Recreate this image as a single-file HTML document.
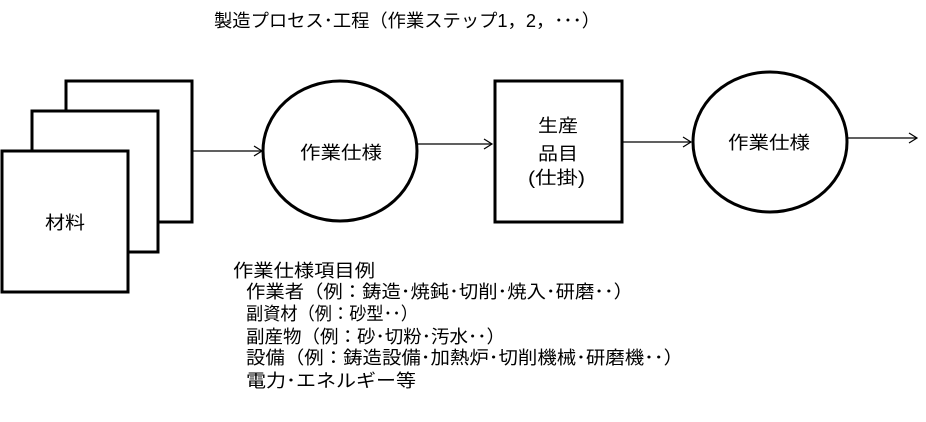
<!DOCTYPE html>
<html><head><meta charset="utf-8"><style>
html,body{margin:0;padding:0;background:#fff;}
svg{display:block;}
text{font-family:"Liberation Sans","Noto Sans CJK JP",sans-serif;font-size:18px;fill:#000;}
</style></head><body>
<svg width="926" height="422" viewBox="0 0 926 422" xmlns="http://www.w3.org/2000/svg">
<g fill="#fff" stroke="#000" stroke-width="3">
<rect x="66" y="81" width="126" height="141"/>
<rect x="32" y="111" width="126" height="141"/>
<rect x="2" y="151" width="126" height="141"/>
<ellipse cx="340" cy="151" rx="77" ry="70"/>
<rect x="495" y="81" width="127" height="141"/>
<ellipse cx="770" cy="142" rx="77" ry="70"/>
</g>
<g stroke="#000" stroke-width="1.2" fill="none">
<line x1="192" y1="151" x2="262" y2="151"/><polyline points="254,146 262,151 254,156"/>
<line x1="418" y1="144" x2="492" y2="144"/><polyline points="484,139 492,144 484,149"/>
<line x1="622" y1="142" x2="691" y2="142"/><polyline points="683,137 691,142 683,147"/>
<line x1="848" y1="138" x2="917" y2="138"/><polyline points="909,133 917,138 909,143"/>
</g>
<text x="214" y="27" textLength="386" lengthAdjust="spacingAndGlyphs">製造プロセス･工程（作業ステップ1，2，･･･）</text>
<text x="45" y="229" textLength="40" lengthAdjust="spacingAndGlyphs">材料</text>
<text x="300" y="159" textLength="82" lengthAdjust="spacingAndGlyphs">作業仕様</text>
<text x="538" y="132" textLength="40" lengthAdjust="spacingAndGlyphs">生産</text>
<text x="538" y="160" textLength="40" lengthAdjust="spacingAndGlyphs">品目</text>
<text x="528" y="184" textLength="57" lengthAdjust="spacingAndGlyphs">(仕掛)</text>
<text x="728" y="149" textLength="82" lengthAdjust="spacingAndGlyphs">作業仕様</text>
<text x="233" y="277" textLength="142" lengthAdjust="spacingAndGlyphs">作業仕様項目例</text>
<text x="246" y="298" textLength="387" lengthAdjust="spacingAndGlyphs">作業者（例：鋳造･焼鈍･切削･焼入･研磨･･）</text>
<text x="246" y="320" textLength="172" lengthAdjust="spacingAndGlyphs">副資材（例：砂型･･）</text>
<text x="246" y="343" textLength="259" lengthAdjust="spacingAndGlyphs">副産物（例：砂･切粉･汚水･･）</text>
<text x="246" y="364" textLength="437" lengthAdjust="spacingAndGlyphs">設備（例：鋳造設備･加熱炉･切削機械･研磨機･･）</text>
<text x="246" y="387" textLength="170" lengthAdjust="spacingAndGlyphs">電力･エネルギー等</text>
</svg>
</body></html>
